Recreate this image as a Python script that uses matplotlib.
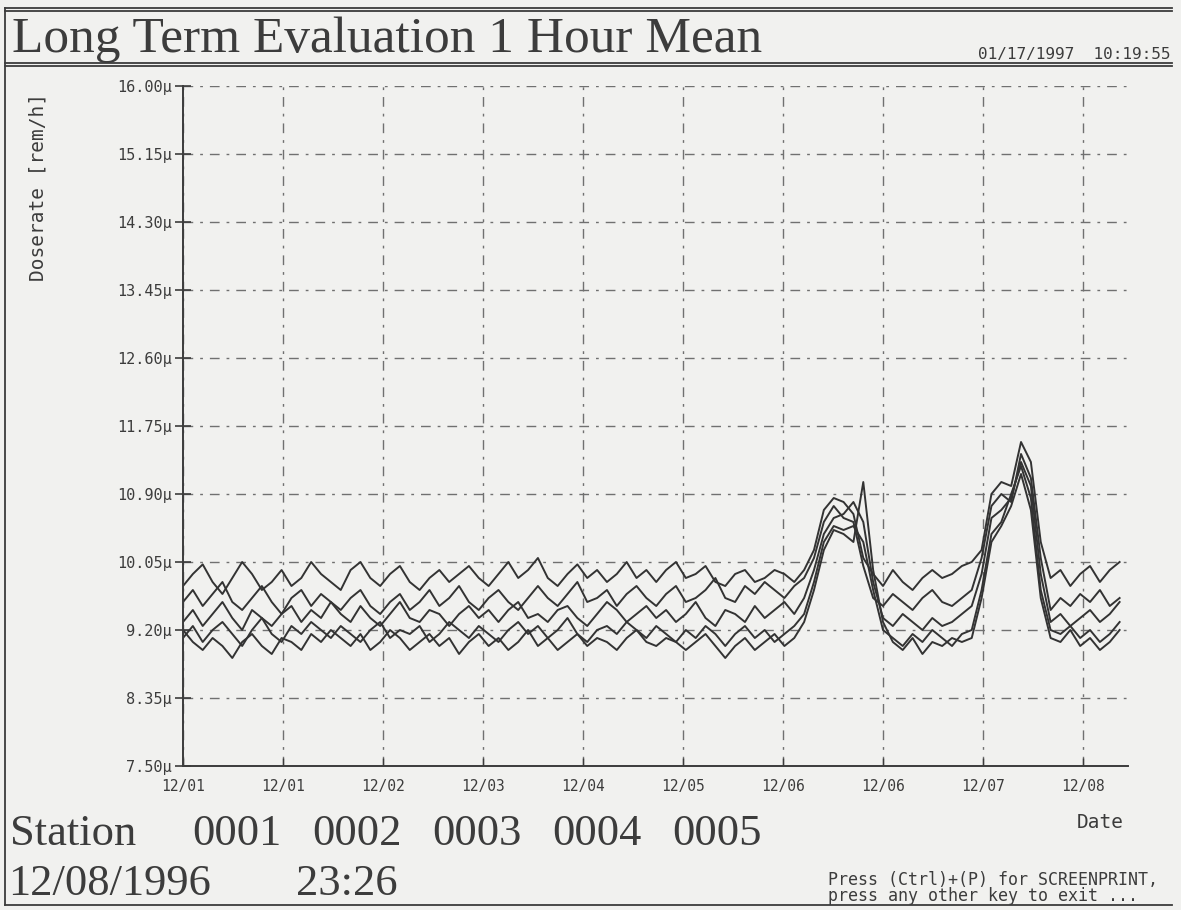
"""Long term evaluation, 1 hour mean dose rate for five stations."""
# %% Imports
import numpy as np
from matplotlib import pyplot as plt

# %% Data (values in micro rem/h, one point every 2 hours from 12/01 00:00)
hours = np.arange(0, 192, 2)

s0001 = [9.75, 9.90, 10.02, 9.80, 9.65, 9.85, 10.05, 9.90, 9.70, 9.80, 9.95, 9.75, 9.85, 10.05, 9.90, 9.80,
         9.70, 9.95, 10.05, 9.85, 9.75, 9.90, 10.00, 9.80, 9.70, 9.85, 9.95, 9.80, 9.90, 10.00, 9.85, 9.75,
         9.90, 10.05, 9.85, 9.95, 10.10, 9.85, 9.75, 9.90, 10.02, 9.85, 9.95, 9.80, 9.90, 10.05, 9.85, 9.95,
         9.80, 9.95, 10.05, 9.85, 9.90, 10.00, 9.80, 9.75, 9.90, 9.95, 9.80, 9.85, 9.95, 9.90, 9.80, 9.95,
         10.20, 10.70, 10.85, 10.80, 10.65, 10.10, 9.90, 9.75, 9.95, 9.80, 9.70, 9.85, 9.95, 9.85, 9.90, 10.00,
         10.05, 10.20, 10.90, 11.05, 11.00, 11.55, 11.30, 10.30, 9.85, 9.95, 9.75, 9.90, 10.00, 9.80, 9.95, 10.05]
s0002 = [9.55, 9.70, 9.50, 9.65, 9.80, 9.55, 9.45, 9.60, 9.75, 9.55, 9.40, 9.60, 9.70, 9.50, 9.65, 9.55,
         9.45, 9.60, 9.70, 9.50, 9.40, 9.55, 9.65, 9.45, 9.55, 9.70, 9.50, 9.60, 9.75, 9.55, 9.45, 9.60,
         9.70, 9.55, 9.45, 9.60, 9.75, 9.60, 9.50, 9.65, 9.80, 9.55, 9.60, 9.70, 9.50, 9.65, 9.75, 9.60,
         9.50, 9.65, 9.75, 9.55, 9.60, 9.70, 9.85, 9.60, 9.55, 9.75, 9.65, 9.80, 9.70, 9.60, 9.75, 9.85,
         10.10, 10.55, 10.75, 10.60, 10.55, 10.00, 9.60, 9.50, 9.65, 9.55, 9.45, 9.60, 9.70, 9.55, 9.50, 9.60,
         9.70, 10.10, 10.75, 10.90, 10.80, 11.40, 11.10, 10.10, 9.45, 9.60, 9.50, 9.65, 9.55, 9.70, 9.50, 9.60]
s0003 = [9.30, 9.45, 9.25, 9.40, 9.55, 9.35, 9.20, 9.45, 9.35, 9.25, 9.40, 9.50, 9.30, 9.45, 9.35, 9.55,
         9.40, 9.30, 9.50, 9.35, 9.25, 9.40, 9.55, 9.35, 9.30, 9.45, 9.40, 9.25, 9.40, 9.50, 9.35, 9.45,
         9.30, 9.45, 9.55, 9.35, 9.40, 9.30, 9.45, 9.50, 9.35, 9.25, 9.40, 9.55, 9.45, 9.30, 9.40, 9.50,
         9.35, 9.45, 9.30, 9.40, 9.55, 9.35, 9.25, 9.45, 9.40, 9.30, 9.50, 9.35, 9.45, 9.55, 9.40, 9.60,
         9.95, 10.40, 10.60, 10.65, 10.80, 10.55, 9.80, 9.35, 9.25, 9.40, 9.30, 9.20, 9.35, 9.25, 9.30, 9.40,
         9.50, 9.90, 10.60, 10.70, 10.85, 11.30, 11.00, 9.90, 9.30, 9.40, 9.25, 9.35, 9.45, 9.30, 9.40, 9.55]
s0004 = [9.10, 9.25, 9.05, 9.20, 9.30, 9.15, 9.00, 9.20, 9.35, 9.15, 9.05, 9.25, 9.15, 9.30, 9.20, 9.10,
         9.25, 9.15, 9.05, 9.20, 9.30, 9.10, 9.20, 9.15, 9.25, 9.05, 9.15, 9.30, 9.20, 9.10, 9.25, 9.15,
         9.05, 9.20, 9.30, 9.15, 9.25, 9.10, 9.20, 9.35, 9.15, 9.05, 9.20, 9.25, 9.15, 9.30, 9.20, 9.10,
         9.25, 9.15, 9.05, 9.20, 9.10, 9.25, 9.15, 9.00, 9.15, 9.25, 9.10, 9.20, 9.05, 9.15, 9.25, 9.40,
         9.80, 10.30, 10.50, 10.45, 10.50, 10.30, 9.70, 9.20, 9.10, 9.00, 9.15, 9.05, 9.20, 9.10, 9.00, 9.15,
         9.20, 9.70, 10.40, 10.55, 10.90, 11.25, 10.85, 9.70, 9.20, 9.15, 9.25, 9.10, 9.20, 9.05, 9.15, 9.30]
s0005 = [9.20, 9.05, 8.95, 9.10, 9.00, 8.85, 9.05, 9.15, 9.00, 8.90, 9.10, 9.05, 8.95, 9.15, 9.05, 9.20,
         9.10, 9.00, 9.15, 8.95, 9.05, 9.20, 9.10, 8.95, 9.05, 9.15, 9.00, 9.10, 8.90, 9.05, 9.15, 9.00,
         9.10, 8.95, 9.05, 9.20, 9.00, 9.10, 8.95, 9.05, 9.15, 9.00, 9.10, 9.05, 8.95, 9.10, 9.20, 9.05,
         9.00, 9.10, 9.05, 8.95, 9.05, 9.15, 9.00, 8.85, 9.00, 9.10, 8.95, 9.05, 9.15, 9.00, 9.10, 9.30,
         9.70, 10.20, 10.45, 10.40, 10.30, 11.05, 9.95, 9.30, 9.05, 8.95, 9.10, 8.90, 9.05, 9.00, 9.10, 9.05,
         9.10, 9.60, 10.30, 10.50, 10.75, 11.15, 10.70, 9.60, 9.10, 9.05, 9.20, 9.00, 9.10, 8.95, 9.05, 9.20]
series = [s0001, s0002, s0003, s0004, s0005]
stations = ["0001", "0002", "0003", "0004", "0005"]

yticks = [7.50, 8.35, 9.20, 10.05, 10.90, 11.75, 12.60, 13.45, 14.30, 15.15, 16.00]
ytick_labels = ["7.50\u03bc", "8.35\u03bc", "9.20\u03bc", "10.05\u03bc", "10.90\u03bc", "11.75\u03bc",
                "12.60\u03bc", "13.45\u03bc", "14.30\u03bc", "15.15\u03bc", "16.00\u03bc"]
xtick_step = 20.28  # hours between date ticks
xtick_labels = ["12/01", "12/01", "12/02", "12/03", "12/04", "12/05", "12/06", "12/06", "12/07", "12/08"]

# %% Figure
paper = "#f1f1ef"
ink = "#3c3c3c"
mono = "DejaVu Sans Mono"
serif = "Liberation Serif"

fig = plt.figure(figsize=(11.81, 9.10), dpi=100, facecolor=paper)
W, H = 1181, 910


def fx(px):
    return px / W


def fy(py):
    return 1 - py / H


ax = fig.add_axes([fx(183), fy(766), fx(1128) - fx(183), fy(86) - fy(766)])
ax.set_facecolor(paper)

for s in series:
    ax.plot(hours, s, color="#333333", lw=1.4)

ax.set_xlim(0, 191.7)
ax.set_ylim(7.5, 16.0)
ax.set_yticks(yticks)
ax.set_yticklabels(ytick_labels, family=mono, fontsize=11, color=ink)
xt = [i * xtick_step for i in range(len(xtick_labels))]
ax.set_xticks(xt)
ax.set_xticklabels(xtick_labels, family=mono, fontsize=10.5, color=ink)
ax.tick_params(axis="y", direction="inout", length=12, width=1.2, color=ink, pad=2)
ax.tick_params(axis="x", direction="in", length=6, width=1, color=ink, pad=9)
for side in ["top", "right"]:
    ax.spines[side].set_visible(False)
for side in ["left", "bottom"]:
    ax.spines[side].set_color(ink)
    ax.spines[side].set_linewidth(1.4)
ax.grid(True, color="#707070", lw=1.0, linestyle=(0, (7, 5, 2, 5)))

# y label, near the top of the axis
fig.text(fx(38), fy(187), "Doserate [rem/h]", rotation=90, ha="center", va="center",
         family=mono, fontsize=14, color=ink)
fig.text(fx(1100), fy(823), "Date", ha="center", va="center", family=mono, fontsize=14, color=ink)

# %% Header / footer frame
lines = [([5, 1172], [8, 8]), ([5, 1172], [11, 11]), ([5, 1172], [63, 63]), ([5, 1172], [66, 66]),
         ([5, 1172], [905, 905]), ([5, 5], [8, 905])]
for xs, ys in lines:
    fig.add_artist(plt.Line2D([fx(x) for x in xs], [fy(y) for y in ys], color=ink, lw=1.3))

fig.text(fx(12), fy(40), "Long Term Evaluation 1 Hour Mean", ha="left", va="center",
         family=serif, fontsize=37, color=ink)
fig.text(fx(1170), fy(54), "01/17/1997  10:19:55", ha="right", va="center",
         family=mono, fontsize=11.5, color=ink)

fig.text(fx(10), fy(834), "Station", ha="left", va="center", family=serif, fontsize=32, color=ink)
for i, name in enumerate(stations):
    fig.text(fx(192 + 120 * i), fy(834), name, ha="left", va="center",
             family=serif, fontsize=32, color=ink)
fig.text(fx(8), fy(884), "12/08/1996", ha="left", va="center", family=serif, fontsize=32, color=ink)
fig.text(fx(296), fy(884), "23:26", ha="left", va="center", family=serif, fontsize=32, color=ink)

fig.text(fx(828), fy(880), "Press (Ctrl)+(P) for SCREENPRINT,", ha="left", va="center",
         family=mono, fontsize=12, color=ink)
fig.text(fx(828), fy(896), "press any other key to exit ...", ha="left", va="center",
         family=mono, fontsize=12, color=ink)

fig.savefig("out.png", dpi=100, facecolor=paper)
